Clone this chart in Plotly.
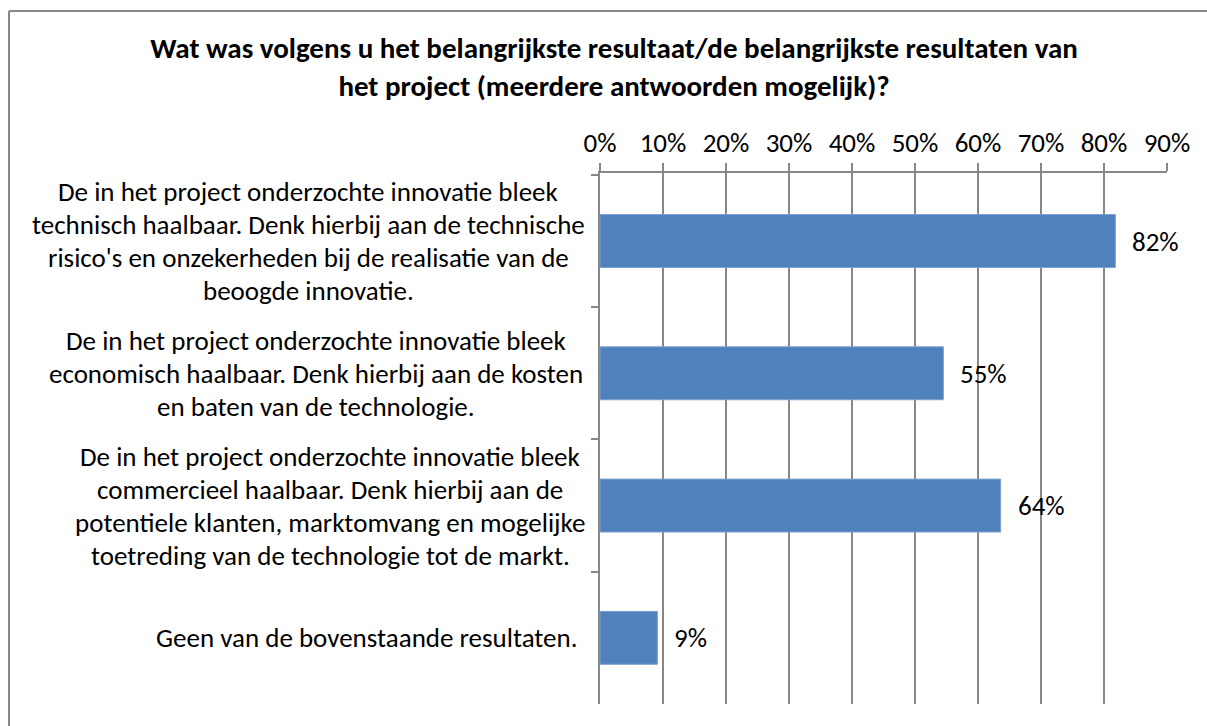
import plotly.graph_objects as go

categories = [
    "De in het project onderzochte innovatie bleek<br>technisch haalbaar. Denk hierbij aan de technische<br>risico's en onzekerheden bij de realisatie van de<br>beoogde innovatie.",
    "De in het project onderzochte innovatie bleek<br>economisch haalbaar. Denk hierbij aan de kosten<br>en baten van de technologie.",
    "De in het project onderzochte innovatie bleek<br>commercieel haalbaar. Denk hierbij aan de<br>potentiele klanten, marktomvang en mogelijke<br>toetreding van de technologie tot de markt.",
    "Geen van de bovenstaande resultaten.",
]
values = [0.818, 0.545, 0.636, 0.091]
value_labels = ["82%", "55%", "64%", "9%"]
tick_values = [0, 0.1, 0.2, 0.3, 0.4, 0.5, 0.6, 0.7, 0.8, 0.9]
tick_labels = ["0%", "10%", "20%", "30%", "40%", "50%", "60%", "70%", "80%", "90%"]
title_lines = ["Wat was volgens u het belangrijkste resultaat/de belangrijkste resultaten van",
               "het project (meerdere antwoorden mogelijk)?"]

FONT = "Carlito, Calibri, Liberation Sans, sans-serif"
W, H = 1207, 726
L, R, T, B = 600, 40, 173, 22
GRID = "#878787"
LINE_STEP = 33
# horizontal centre (px) of each category label block (layout only)
label_block_centres = [308, 316, 330, 367]

cat_ids = [f"c{i}" for i in range(len(categories))]
plot_h = H - T - B
plot_w = W - L - R

fig = go.Figure()
fig.add_trace(go.Bar(
    x=values, y=cat_ids, orientation="h",
    marker=dict(color="#4F81BD", line=dict(color="#7BA0CD", width=1)),
    width=0.4, hoverinfo="skip",
))

annotations = []
for cid, txt, cx in zip(cat_ids, categories, label_block_centres):
    lines = txt.split("<br>")
    n = len(lines)
    for i, ln in enumerate(lines):
        annotations.append(dict(
            x=0, xref="paper", y=cid, yref="y", text=ln, showarrow=False,
            xanchor="center", yanchor="middle", align="center",
            xshift=cx - L, yshift=((n - 1) / 2 - i) * LINE_STEP,
            font=dict(family=FONT, size=27, color="#000000"),
        ))
for cid, v, lab in zip(cat_ids, values, value_labels):
    annotations.append(dict(
        x=v, xref="x", y=cid, yref="y", text=lab, showarrow=False,
        xanchor="left", yanchor="middle", xshift=15,
        font=dict(family=FONT, size=27, color="#000000"),
    ))

fig.update_layout(
    width=W, height=H,
    margin=dict(l=L, r=R, t=T, b=B, pad=0),
    paper_bgcolor="white", plot_bgcolor="white",
    showlegend=False,
    title=dict(text="<br>".join("<b>" + s + "</b>" for s in title_lines),
               x=614 / W, xanchor="center", xref="container",
               y=1 - 58 / H, yanchor="top",
               font=dict(family=FONT, size=29, color="#000000")),
    xaxis=dict(
        range=[0, 0.9], side="top", tickvals=tick_values, ticktext=tick_labels,
        showgrid=True, gridcolor=GRID, gridwidth=2,
        showline=True, linecolor=GRID, linewidth=1.5,
        ticks="outside", ticklen=8, tickcolor=GRID, tickwidth=1.5,
        tickfont=dict(family=FONT, size=27, color="#000000"),
        zeroline=False, fixedrange=True,
    ),
    yaxis=dict(
        autorange="reversed", showticklabels=False,
        showline=True, linecolor=GRID, linewidth=1.5,
        ticks="outside", ticklen=7, tickcolor=GRID, tickwidth=1.5,
        tickson="boundaries", showgrid=False, zeroline=False, fixedrange=True,
    ),
    bargap=0.6,
    annotations=annotations,
    shapes=[
        dict(type="line", xref="paper", yref="paper",
             x0=(9 - L) / plot_w, x1=(9 - L) / plot_w,
             y0=(H - B - 11) / plot_h, y1=(H - B - H) / plot_h,
             line=dict(color="#878787", width=2)),
        dict(type="line", xref="paper", yref="paper",
             x0=(9 - L) / plot_w, x1=(W - L) / plot_w,
             y0=(H - B - 11) / plot_h, y1=(H - B - 11) / plot_h,
             line=dict(color="#878787", width=2)),
    ],
)

fig.write_html("out.html", config={"displayModeBar": False},
               post_script="document.body.style.margin='0px';")
